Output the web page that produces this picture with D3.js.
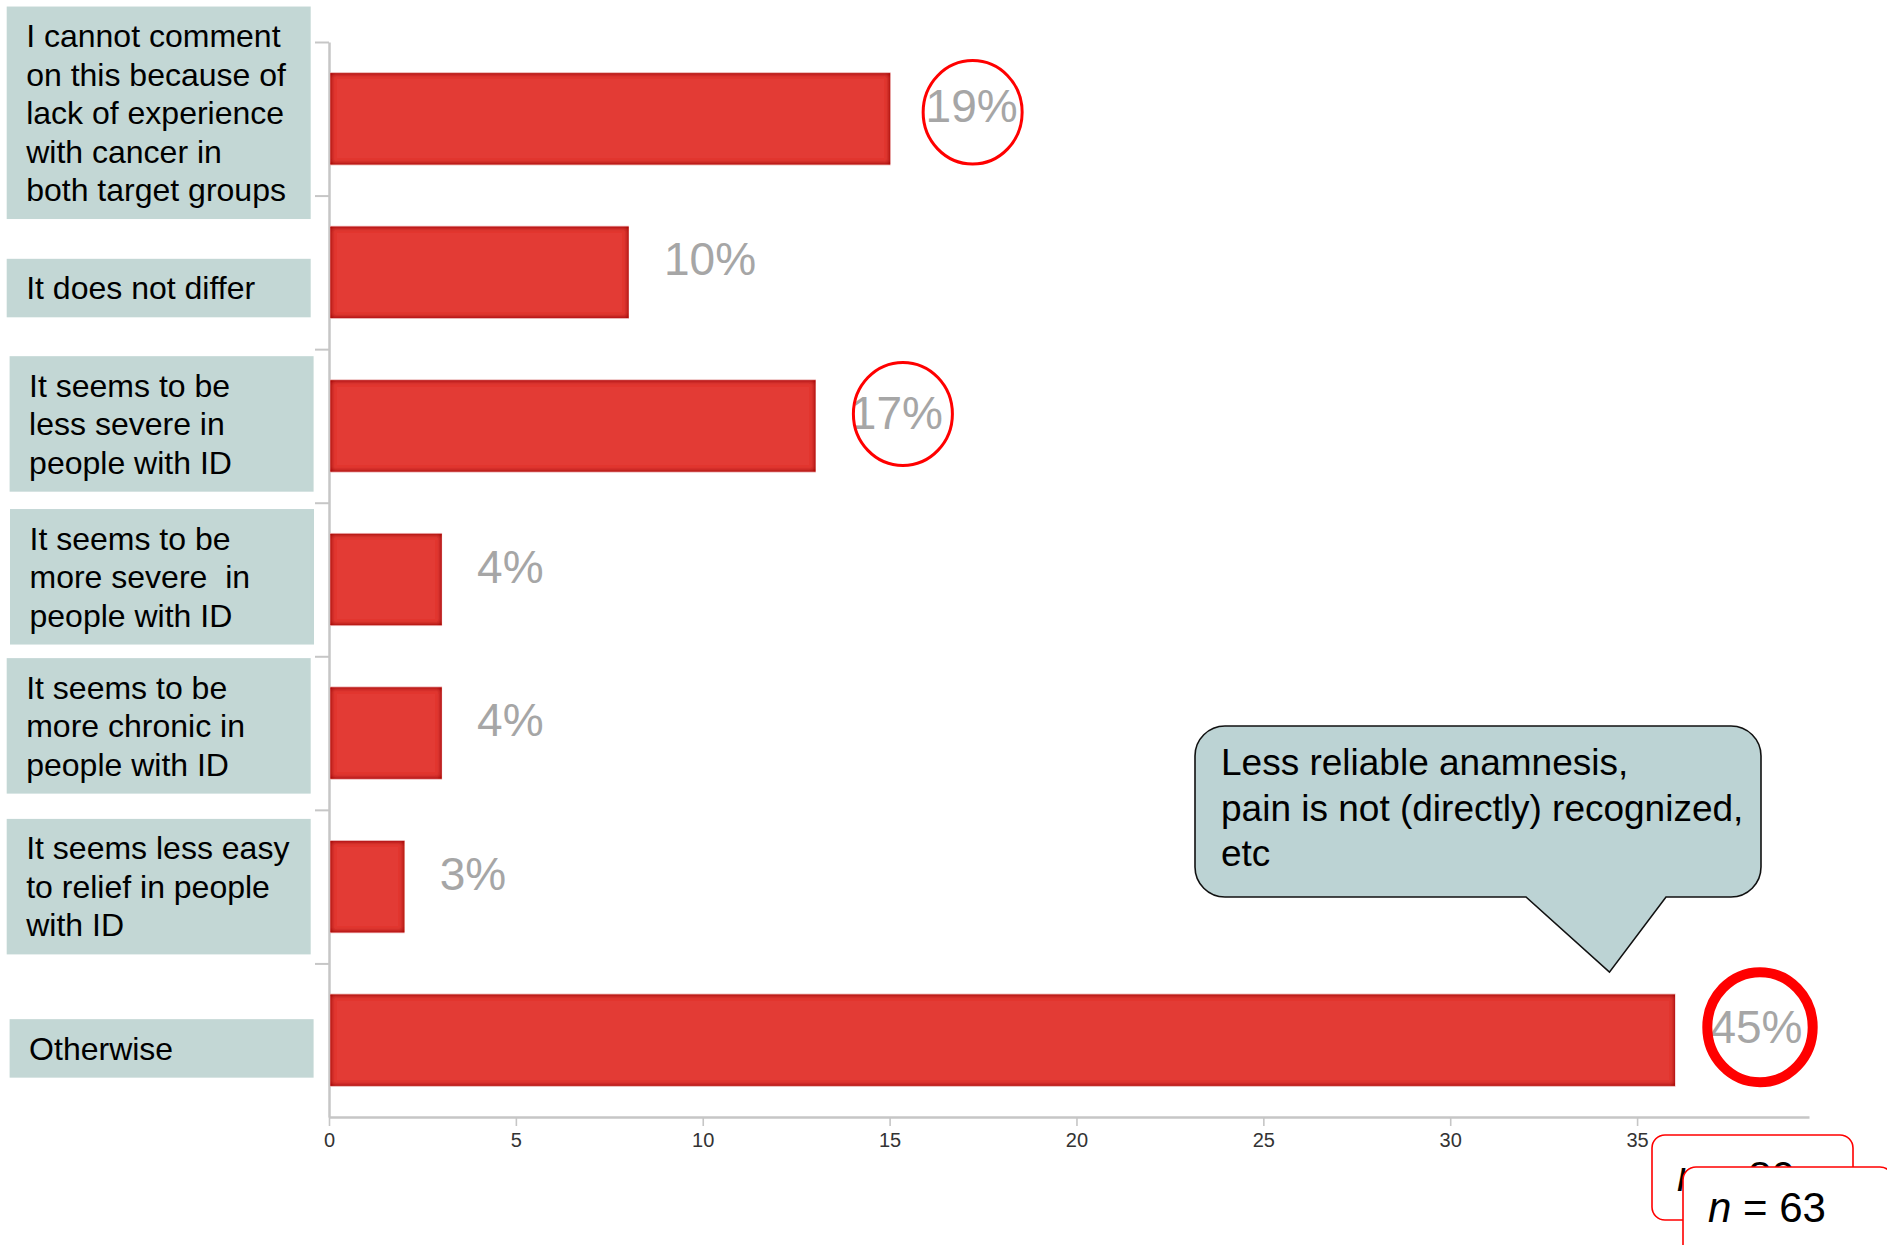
<!DOCTYPE html>
<html>
<head>
<meta charset="utf-8">
<script src="https://cdn.jsdelivr.net/npm/d3@7"></script>
<style>
  html, body { margin: 0; padding: 0; background: #ffffff; }
  svg { display: block; font-family: "Liberation Sans", Arial, Helvetica, sans-serif; }
</style>
</head>
<body>
<svg id="chart" width="1887" height="1245"></svg>
<script>
// ---- data ----
const categories = [
  "I cannot comment\non this because of\nlack of experience\nwith cancer in\nboth target groups",
  "It does not differ",
  "It seems to be\nless severe in\npeople with ID",
  "It seems to be\nmore severe  in\npeople with ID",
  "It seems to be\nmore chronic in\npeople with ID",
  "It seems less easy\nto relief in people\nwith ID",
  "Otherwise"
];
const counts = [15, 8, 13, 3, 3, 2, 36];
const percentLabels = ["19%", "10%", "17%", "4%", "4%", "3%", "45%"];
const xTickValues = [0, 5, 10, 15, 20, 25, 30, 35];
const highlightedIdx = [0, 2, 6];
const calloutLines = [
  "Less reliable anamnesis,",
  "pain is not (directly) recognized,",
  "etc"
];
const sampleSizes = ["80", "63"];

// ---- layout ----
const plot = { left: 329, right: 1809, top: 42, bottom: 1117 };
const svg = d3.select("#chart");

const x = d3.scaleLinear()
  .domain([0, d3.max(counts) * 1.1])
  .range([plot.left, plot.right]);

const y = d3.scaleBand()
  .domain(categories)
  .range([plot.top, plot.bottom])
  .paddingInner(0.4)
  .paddingOuter(0.2);

// category boundaries for the left axis ticks
const yEdge = d3.scaleLinear().domain([0, categories.length]).range([plot.top, plot.bottom]);

// inner dark edge on bars
const defs = svg.append("defs");
const f = defs.append("filter").attr("id", "barEdge")
  .attr("x", "-5%").attr("y", "-20%").attr("width", "110%").attr("height", "140%");
f.append("feFlood").attr("flood-color", "#a00000").attr("result", "c");
f.append("feComposite").attr("in", "c").attr("in2", "SourceAlpha").attr("operator", "out").attr("result", "outside");
f.append("feGaussianBlur").attr("in", "outside").attr("stdDeviation", 2.6).attr("result", "blur");
f.append("feComposite").attr("in", "blur").attr("in2", "SourceAlpha").attr("operator", "in").attr("result", "inner");
const fm = f.append("feMerge");
fm.append("feMergeNode").attr("in", "SourceGraphic");
fm.append("feMergeNode").attr("in", "inner");
fm.append("feMergeNode").attr("in", "inner");

// ---- axes ----
const xAxis = d3.axisBottom(x)
  .tickValues(xTickValues)
  .tickSize(9)
  .tickSizeOuter(0)
  .tickPadding(7);
const gx = svg.append("g")
  .attr("transform", `translate(0,${plot.bottom})`)
  .call(xAxis);
gx.select(".domain").attr("stroke", "#c6c6c6").attr("stroke-width", 2.5);
gx.selectAll(".tick line").attr("stroke", "#c6c6c6").attr("stroke-width", 1.6);
gx.selectAll(".tick text")
  .attr("fill", "#333")
  .attr("font-size", 20)
  .attr("font-family", "'Liberation Sans Narrow', 'Liberation Sans', Arial, sans-serif");

const yAxis = d3.axisLeft(yEdge)
  .tickValues(d3.range(0, categories.length + 1))
  .tickSize(14)
  .tickSizeOuter(0)
  .tickFormat("");
const gy = svg.append("g")
  .attr("transform", `translate(${plot.left},0)`)
  .call(yAxis);
gy.select(".domain").attr("stroke", "#c6c6c6").attr("stroke-width", 2.5);
gy.selectAll(".tick line").attr("stroke", "#c6c6c6").attr("stroke-width", 2);
gy.selectAll(".tick").filter(d => d === categories.length).remove();

// ---- bars ----
const bars = svg.append("g");
bars.selectAll("rect.bar-outline")
  .data(counts)
  .join("rect")
  .attr("class", "bar-outline")
  .attr("x", x(0) + 1)
  .attr("y", (d, i) => y(categories[i]) - 0.5)
  .attr("width", d => x(d) - x(0))
  .attr("height", y.bandwidth() + 1)
  .attr("fill", "#e9b0b0");
bars.selectAll("rect.bar")
  .data(counts)
  .join("rect")
  .attr("class", "bar")
  .attr("x", x(0) + 1.5)
  .attr("y", (d, i) => y(categories[i]) + 0.5)
  .attr("width", d => x(d) - x(0) - 1)
  .attr("height", y.bandwidth() - 1)
  .attr("fill", "#e33a36")
  .attr("filter", "url(#barEdge)");

// ---- value labels ----
const labelGap = 36;
const valueLabels = svg.append("g").selectAll("text")
  .data(counts)
  .join("text")
  .attr("x", d => x(d) + labelGap)
  .attr("y", (d, i) => y(categories[i]) + y.bandwidth() / 2 + 3)
  .attr("font-size", 46)
  .attr("fill", "#a6a6a6")
  .text((d, i) => percentLabels[i]);

// ---- highlight rings ----
const ringStyle = {
  0: { dx: 1, dy: -9.5, rx: 49.5, ry: 51.7, w: 3 },
  2: { dx: 6, dy: -15, rx: 49.5, ry: 51.5, w: 3 },
  6: { dx: 3.5, dy: -16, rx: 52.7, ry: 55, w: 10 }
};
const rings = svg.append("g");
highlightedIdx.forEach(i => {
  const node = valueLabels.nodes()[i];
  const tw = node.getComputedTextLength();
  const s = ringStyle[i];
  const tx = x(counts[i]) + labelGap + tw / 2 + s.dx;
  const ty = y(categories[i]) + y.bandwidth() / 2 + 3 + s.dy;
  rings.append("ellipse")
    .attr("cx", tx).attr("cy", ty)
    .attr("rx", s.rx).attr("ry", s.ry)
    .attr("fill", "none")
    .attr("stroke", "#ff0000")
    .attr("stroke-width", s.w);
});

// ---- category label boxes ----
const boxNudge = [
  { dx: 6.7, dy: -6 }, { dx: 6.7, dy: 15.7 }, { dx: 9.6, dy: -2 },
  { dx: 10, dy: -2.7 }, { dx: 6.7, dy: -7.2 }, { dx: 6.7, dy: 0 }, { dx: 9.6, dy: 8.2 }
];
const lineH = 38.5;
const labelG = svg.append("g");
categories.forEach((c, i) => {
  const lines = c.split("\n");
  const h = lines.length * lineH + 20;
  const cy = y(c) + y.bandwidth() / 2 + boxNudge[i].dy;
  const top = cy - h / 2;
  const left = boxNudge[i].dx;
  labelG.append("rect")
    .attr("x", left).attr("y", top)
    .attr("width", 304).attr("height", h)
    .attr("fill", "#c3d7d5");
  const t = labelG.append("text")
    .attr("font-size", 32)
    .attr("fill", "#000");
  lines.forEach((ln, k) => {
    t.append("tspan")
      .attr("x", left + 19.5)
      .attr("y", top + 10 + 30.5 + k * lineH)
      .attr("xml:space", "preserve")
      .text(ln);
  });
});

// ---- callout ----
const cb = { x0: 1195, y0: 726, x1: 1761, y1: 897, r: 30 };
const tip = { x: x(counts[6]) - 65, y: y(categories[6]) - 22 };
const base = { left: 1526, right: 1666 };
const cp = d3.path();
cp.moveTo(cb.x0 + cb.r, cb.y0);
cp.lineTo(cb.x1 - cb.r, cb.y0);
cp.arcTo(cb.x1, cb.y0, cb.x1, cb.y0 + cb.r, cb.r);
cp.lineTo(cb.x1, cb.y1 - cb.r);
cp.arcTo(cb.x1, cb.y1, cb.x1 - cb.r, cb.y1, cb.r);
cp.lineTo(base.right, cb.y1);
cp.lineTo(tip.x, tip.y);
cp.lineTo(base.left, cb.y1);
cp.lineTo(cb.x0 + cb.r, cb.y1);
cp.arcTo(cb.x0, cb.y1, cb.x0, cb.y1 - cb.r, cb.r);
cp.lineTo(cb.x0, cb.y0 + cb.r);
cp.arcTo(cb.x0, cb.y0, cb.x0 + cb.r, cb.y0, cb.r);
cp.closePath();
svg.append("path")
  .attr("d", cp.toString())
  .attr("fill", "#bcd3d4")
  .attr("stroke", "#111")
  .attr("stroke-width", 1.6);
const ct = svg.append("text").attr("font-size", 37).attr("fill", "#000");
calloutLines.forEach((ln, k) => {
  ct.append("tspan").attr("x", 1221).attr("y", 775 + k * 45.5).text(ln);
});

// ---- sample size tags (the later tag sits on top of the earlier one) ----
const tags = [
  { x: 1652, y: 1135, w: 201, h: 85, tx: 1677, ty: 1191 },
  { x: 1683, y: 1167, w: 210, h: 100, tx: 1708, ty: 1222 }
];
tags.forEach((t, i) => {
  svg.append("rect")
    .attr("x", t.x).attr("y", t.y)
    .attr("width", t.w).attr("height", t.h)
    .attr("rx", 13).attr("ry", 13)
    .attr("fill", "#ffffff")
    .attr("stroke", "#ff0000")
    .attr("stroke-width", 1.6);
  const tt = svg.append("text")
    .attr("x", t.tx).attr("y", t.ty)
    .attr("font-size", 42)
    .attr("fill", "#000");
  tt.append("tspan").attr("font-style", "italic").text("n");
  tt.append("tspan").text(" = " + sampleSizes[i]);
});
</script>
</body>
</html>
